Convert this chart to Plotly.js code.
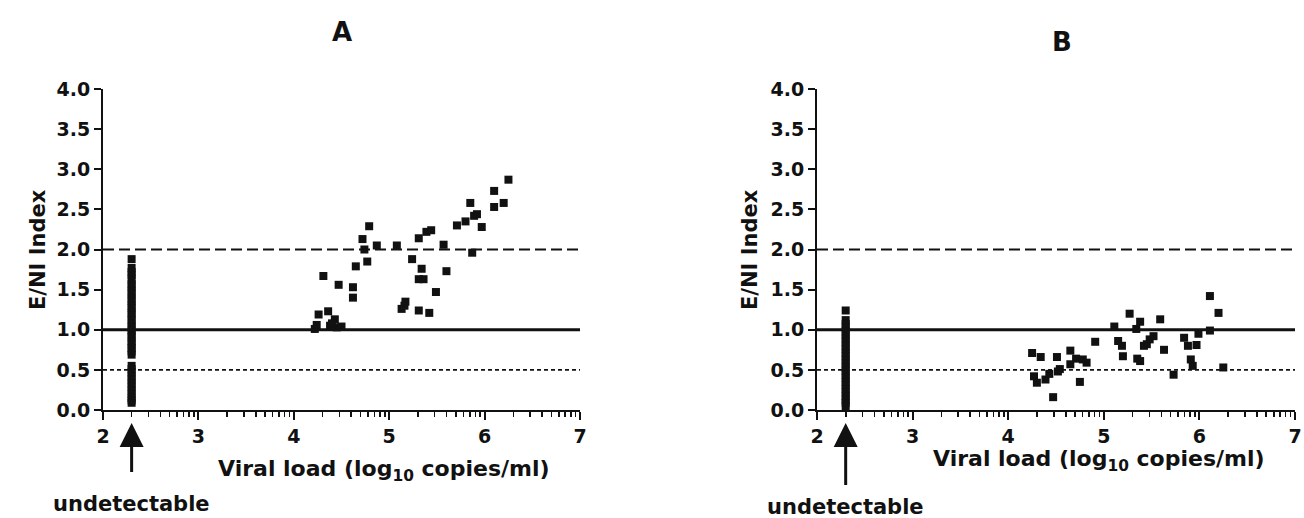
<!DOCTYPE html>
<html><head><meta charset="utf-8">
<script src="https://cdn.plot.ly/plotly-3.0.1.min.js"></script>
<style>html,body{margin:0;padding:0;background:#fff}</style>
</head><body><div id="chart" style="width:1304px;height:518px"></div>
<script>
// ---- text ----
const panelTitles = ['A', 'B'];
const xTitle = 'Viral load (log<sub>10</sub> copies/ml)';
const yTitle = 'E/NI Index';
const undetectableLabel = 'undetectable';

// ---- ticks ----
const xTicks = [2, 3, 4, 5, 6, 7];
const yTicks = [0, 0.5, 1, 1.5, 2, 2.5, 3, 3.5, 4];
const yTickText = ['0.0', '0.5', '1.0', '1.5', '2.0', '2.5', '3.0', '3.5', '4.0'];

// ---- reference levels ----
const upperCutoff = 2.0;
const unity = 1.0;
const lowerCutoff = 0.5;

// ---- undetectable viral load position (log10 200 copies/ml) ----
const undetectableX = 2.3;

// ---- Panel A ----
const xA = [4.22, 4.26, 4.31, 4.36, 4.38, 4.43, 4.45, 4.50, 4.47, 4.62, 4.62, 4.65, 4.72, 4.74, 4.77, 4.79, 4.87,
            5.08, 5.13, 5.16, 5.17, 5.24, 5.31, 5.34, 5.31, 5.36, 5.31, 5.39, 5.44, 5.42, 5.49, 5.57, 5.60,
            5.71, 5.80, 5.85, 5.87, 5.89, 5.92, 5.97, 6.10, 6.10, 6.20, 6.25, 4.24, 4.40];
const yA = [1.01, 1.19, 1.67, 1.23, 1.05, 1.13, 1.03, 1.04, 1.56, 1.53, 1.40, 1.79, 2.13, 2.00, 1.85, 2.29, 2.05,
            2.05, 1.26, 1.30, 1.35, 1.88, 2.14, 1.76, 1.63, 1.63, 1.24, 2.22, 2.24, 1.21, 1.47, 2.06, 1.73,
            2.30, 2.35, 2.58, 1.96, 2.42, 2.44, 2.28, 2.73, 2.53, 2.58, 2.87, 1.06, 1.08];
const undetYA = [1.88, 1.77, 1.72, 1.68, 1.63, 1.57, 1.54, 1.48, 1.45, 1.39, 1.36, 1.30, 1.27, 1.21, 1.18, 1.12,
                 1.08, 1.03, 0.99, 0.94, 0.91, 0.85, 0.82, 0.77, 0.73, 0.69, 0.55, 0.51, 0.47, 0.42, 0.38, 0.33,
                 0.29, 0.24, 0.20, 0.15, 0.12, 0.09];

// ---- Panel B ----
const xB = [4.25, 4.27, 4.30, 4.34, 4.39, 4.43, 4.47, 4.51, 4.52, 4.54, 4.65, 4.65, 4.71, 4.75, 4.78, 4.82, 4.91,
            5.11, 5.15, 5.19, 5.20, 5.27, 5.34, 5.38, 5.35, 5.38, 5.42, 5.45, 5.48, 5.52, 5.59, 5.63, 5.73,
            5.84, 5.88, 5.91, 5.93, 5.97, 5.99, 6.11, 6.11, 6.20, 6.25];
const yB = [0.71, 0.42, 0.34, 0.66, 0.38, 0.45, 0.16, 0.66, 0.48, 0.51, 0.74, 0.57, 0.64, 0.35, 0.63, 0.59, 0.85,
            1.04, 0.86, 0.80, 0.67, 1.20, 1.01, 1.10, 0.64, 0.61, 0.80, 0.82, 0.88, 0.92, 1.13, 0.75, 0.44,
            0.90, 0.80, 0.63, 0.55, 0.81, 0.95, 1.42, 0.99, 1.21, 0.53];
const undetYB = [1.24, 1.12, 1.07, 1.03, 0.98, 0.94, 0.89, 0.85, 0.80, 0.76, 0.71, 0.67, 0.62, 0.58, 0.53, 0.49,
                 0.44, 0.40, 0.35, 0.31, 0.26, 0.22, 0.17, 0.13, 0.09, 0.05];

// ---- build ----
const INK = '#111';
const FONT = 'DejaVu Sans, Liberation Sans, Arial, sans-serif';
const W = 1304, H = 518;
const px = v => v / W;
const py = v => 1 - v / H;

const minorVals = [];
for (let n = 2; n < 7; n++) for (let k = 2; k <= 9; k++) minorVals.push(n + Math.log10(k));

const tickfont = {family: FONT, size: 19, color: INK, weight: 'bold'};

function xax(domain, anchor) {
  return {
    domain, anchor, range: [2, 7], tickmode: 'array', tickvals: xTicks, ticktext: xTicks.map(String),
    ticks: 'outside', ticklen: 8, tickwidth: 2, tickcolor: INK,
    showline: true, linewidth: 2, linecolor: INK, showgrid: false, zeroline: false,
    tickfont, fixedrange: true,
    minor: {tickmode: 'array', tickvals: minorVals, ticks: 'outside', ticklen: 5, tickwidth: 1.5, tickcolor: INK, showgrid: false}
  };
}
function yax(domain, anchor) {
  return {
    domain, anchor, range: [0, 4], tickmode: 'array', tickvals: yTicks, ticktext: yTickText,
    ticks: 'outside', ticklen: 7, tickwidth: 2, tickcolor: INK,
    showline: true, linewidth: 2, linecolor: INK, showgrid: false, zeroline: false,
    tickfont, fixedrange: true
  };
}

const marker = {symbol: 'square', size: 8, color: INK, line: {width: 0}};
function pts(x, y, xa, ya) {
  return {type: 'scatter', mode: 'markers', x, y, xaxis: xa, yaxis: ya, marker, cliponaxis: false, hoverinfo: 'x+y', showlegend: false};
}

const traces = [
  pts(xA, yA, 'x', 'y'),
  pts(undetYA.map(() => undetectableX), undetYA, 'x', 'y'),
  pts(xB, yB, 'x2', 'y2'),
  pts(undetYB.map(() => undetectableX), undetYB, 'x2', 'y2')
];

function refLines(xr, yr) {
  return [
    {type: 'line', xref: xr, yref: yr, x0: 2, x1: 7, y0: upperCutoff, y1: upperCutoff, line: {color: INK, width: 1.8, dash: '11px,5px'}},
    {type: 'line', xref: xr, yref: yr, x0: 2, x1: 7, y0: unity, y1: unity, line: {color: INK, width: 3}},
    {type: 'line', xref: xr, yref: yr, x0: 2, x1: 7, y0: lowerCutoff, y1: lowerCutoff, line: {color: INK, width: 1.6, dash: '4px,3px'}}
  ];
}

const bigFont = {family: FONT, size: 22, color: INK, weight: 'bold'};

function panelAnnots(xr, cfg) {
  return [
    {xref: 'paper', yref: 'paper', x: px(cfg.titleX), y: py(cfg.titleY), text: cfg.title, showarrow: false,
     xanchor: 'center', yanchor: 'middle', font: {family: FONT, size: 26, color: INK, weight: 'bold'}},
    {xref: 'paper', yref: 'paper', x: px(cfg.xtX), y: py(cfg.xtY), text: xTitle, showarrow: false,
     xanchor: 'center', yanchor: 'middle', font: bigFont},
    {xref: 'paper', yref: 'paper', x: px(cfg.ytX), y: py(cfg.ytY), text: yTitle, showarrow: false, textangle: -90,
     xanchor: 'center', yanchor: 'middle', font: {family: FONT, size: 21, color: INK, weight: 'bold'}},
    {xref: xr, yref: 'paper', x: undetectableX, y: py(cfg.tipY), text: ' ', showarrow: true,
     ax: 0, ay: cfg.tailY - cfg.tipY, axref: 'pixel', ayref: 'pixel',
     arrowhead: 2, arrowsize: 1.6, arrowwidth: 3, arrowcolor: INK, font: {size: 1}},
    {xref: xr, yref: 'paper', x: undetectableX, y: py(cfg.labY), text: undetectableLabel, showarrow: false,
     xanchor: 'center', yanchor: 'middle', font: {family: FONT, size: 21, color: INK, weight: 'bold'}}
  ];
}

const layout = {
  width: W, height: H, margin: {l: 0, r: 0, t: 0, b: 0},
  paper_bgcolor: '#fff', plot_bgcolor: 'rgba(0,0,0,0)', showlegend: false,
  xaxis: xax([px(103), px(580)], 'y'),
  yaxis: yax([1 - 410 / H, 1 - 89 / H], 'x'),
  xaxis2: xax([px(817), px(1295)], 'y2'),
  yaxis2: yax([1 - 410 / H, 1 - 89 / H], 'x2'),
  shapes: [...refLines('x', 'y'), ...refLines('x2', 'y2')],
  annotations: [
    ...panelAnnots('x', {title: panelTitles[0], titleX: 342, titleY: 32, xtX: 384, xtY: 470, ytX: 38, ytY: 250, tipY: 423, tailY: 474, labY: 504}),
    ...panelAnnots('x2', {title: panelTitles[1], titleX: 1062, titleY: 42, xtX: 1099, xtY: 460, ytX: 750, ytY: 250, tipY: 423, tailY: 487, labY: 507})
  ]
};

Plotly.newPlot('chart', traces, layout, {staticPlot: true, displayModeBar: false});
</script>
</body></html>
